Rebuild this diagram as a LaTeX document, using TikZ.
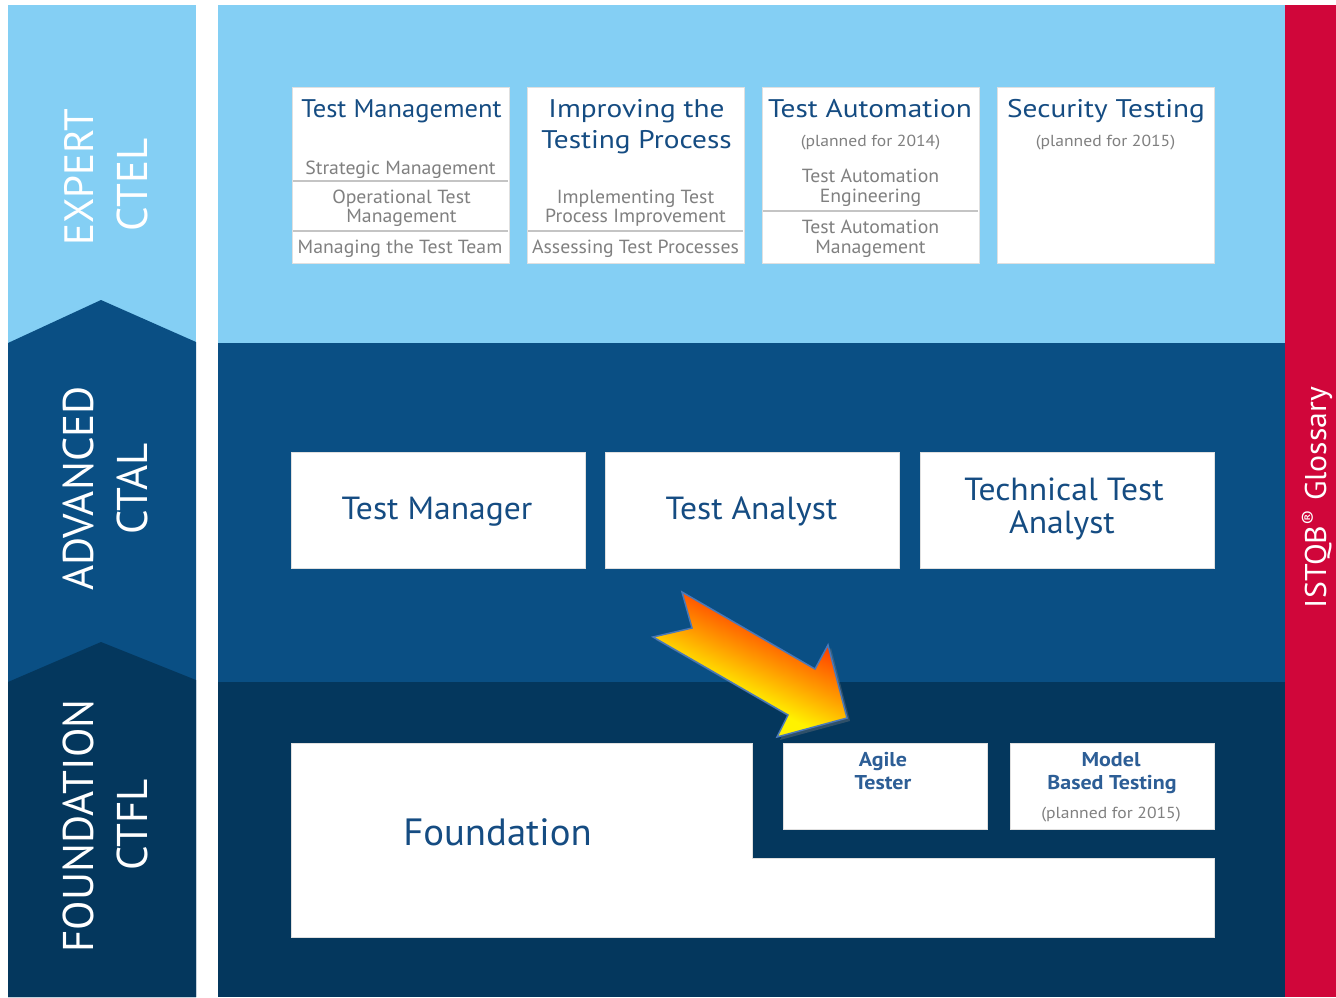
\documentclass[tikz,border=0pt]{standalone}
\usepackage{fontspec}
\setmainfont{PT Sans}
\usetikzlibrary{shadows}
\definecolor{lightblue}{HTML}{84CFF4}
\definecolor{midblue}{HTML}{0A4F84}
\definecolor{darkblue}{HTML}{04375D}
\definecolor{istqbred}{HTML}{D0063A}
\definecolor{titleblue}{HTML}{154C82}
\definecolor{agileblue}{HTML}{2D5E96}
\definecolor{subgray}{HTML}{808080}
\definecolor{sepgray}{HTML}{C4C4C4}
\definecolor{arrowedge}{HTML}{4A78B8}
\definecolor{arrowyellow}{HTML}{FFF200}
\definecolor{arroworange}{HTML}{FF9A00}
\definecolor{arrowred}{HTML}{F01010}
\pgfdeclareverticalshading{arrowshade}{100bp}{color(0bp)=(arrowyellow); color(40bp)=(arrowyellow); color(52bp)=(arroworange); color(63bp)=(orange!60!red); color(72bp)=(arrowred); color(100bp)=(arrowred)}
\begin{document}
\begin{tikzpicture}[x=1pt,y=-1pt,
  whitebox/.style={fill=white,draw=black!12,line width=0.8pt},
  sep/.style={draw=sepgray,line width=2pt},
  title/.style={anchor=base,inner sep=0pt,text=titleblue,font=\fontsize{25.5}{30}\selectfont\addfontfeature{FakeStretch=1.15}},
  titlen/.style={anchor=base,inner sep=0pt,text=titleblue,font=\fontsize{25.5}{30}\selectfont\addfontfeature{FakeStretch=1.04}},
  sub/.style={anchor=base,inner sep=0pt,text=subgray,font=\fontsize{19}{22}\selectfont\addfontfeature{FakeStretch=1.04}},
  planned/.style={anchor=base,inner sep=0pt,text=subgray,font=\fontsize{16}{18}\selectfont\addfontfeature{FakeStretch=1.1}},
  adv/.style={anchor=base,inner sep=0pt,text=titleblue,font=\fontsize{32}{36}\selectfont\addfontfeature{FakeStretch=1.05}},
  found/.style={anchor=base,inner sep=0pt,text=titleblue,font=\fontsize{38}{44}\selectfont\addfontfeature{FakeStretch=1.02}},
  agile/.style={anchor=base,inner sep=0pt,text=agileblue,font=\bfseries\fontsize{20}{22}\selectfont\addfontfeature{FakeStretch=1.1}},
  level/.style={anchor=base,inner sep=0pt,text=white,rotate=90,font=\fontsize{43}{50}\selectfont},
  gloss/.style={anchor=base,inner sep=0pt,text=white,rotate=90,font=\fontsize{30}{36}\selectfont\addfontfeature{FakeStretch=1.06}}
]
\useasboundingbox (0,0) rectangle (1336,997);
\fill[white] (0,0) rectangle (1336,997);

% left level column
\fill[lightblue] (8,5) rectangle (196,997);
\fill[midblue] (8,343) -- (101,300) -- (196,342) -- (196,997) -- (8,997) -- cycle;
\fill[darkblue] (8,682) -- (101,642) -- (196,680) -- (196,997) -- (8,997) -- cycle;

% main panel bands
\fill[lightblue] (218,5) rectangle (1285,343);
\fill[midblue] (218,343) rectangle (1285,682);
\fill[darkblue] (218,682) rectangle (1285,997);
\fill[istqbred] (1285,5) rectangle (1336,997);

% level labels
\node[level,font=\fontsize{41}{50}\selectfont] (expert) at (93,177.5) {EXPERT};
\node[level] (ctel) at (147,185) {CTEL};
\node[level] (advanced) at (93,488.5) {ADVANCED};
\node[level] (ctal) at (147,489) {CTAL};
\node[level] (foundationlvl) at (93,826) {FOUNDATION};
\node[level] (ctfl) at (147,825) {CTFL};

% glossary
\node[gloss] (glossary) at (1326,497.5) {ISTQB\textsuperscript{®} Glossary};

% expert boxes
\fill[whitebox] (292,87) rectangle (509,263);
\fill[whitebox] (527,87) rectangle (744,263);
\fill[whitebox] (762,87) rectangle (979,263);
\fill[whitebox] (997,87) rectangle (1214,263);
\draw[sep] (293,181) -- (508,181);
\draw[sep] (293,231) -- (508,231);
\draw[sep] (528,231) -- (743,231);
\draw[sep] (763,211) -- (978,211);

\node[titlen] (tm) at (401.5,117) {Test Management};
\node[sub] (tm1) at (400.5,174) {Strategic Management};
\node[sub] (tm2a) at (401.5,203) {Operational Test};
\node[sub] (tm2b) at (401.5,222) {Management};
\node[sub] (tm3) at (400,253) {Managing the Test Team};

\node[title] (itp1) at (636.5,117) {Improving the};
\node[title] (itp2) at (636.5,148) {Testing Process};
\node[sub] (itpa) at (635.5,203) {Implementing Test};
\node[sub] (itpb) at (635.5,222) {Process Improvement};
\node[sub] (itpc) at (635.5,253) {Assessing Test Processes};

\node[title] (ta) at (870,117) {Test Automation};
\node[planned] (tap) at (870.5,146) {(planned for 2014)};
\node[sub] (tae1) at (870.5,182) {Test Automation};
\node[sub] (tae2) at (870.5,202) {Engineering};
\node[sub] (tam1) at (870.5,233) {Test Automation};
\node[sub] (tam2) at (870.5,253) {Management};

\node[title] (st) at (1106,117) {Security Testing};
\node[planned] (stp) at (1105.5,146) {(planned for 2015)};

% advanced boxes
\fill[whitebox] (291,452) rectangle (585,568);
\fill[whitebox] (605,452) rectangle (899,568);
\fill[whitebox] (920,452) rectangle (1214,568);
\node[adv] (tmgr) at (437,519) {Test Manager};
\node[adv] (tanl) at (751.5,519) {Test Analyst};
\node[adv] (tta1) at (1064,500) {Technical Test};
\node[adv] (tta2) at (1062,533) {Analyst};

% foundation
\fill[whitebox] (291,743) -- (752,743) -- (752,858) -- (1214,858) -- (1214,937) -- (291,937) -- cycle;
\node[found] (fnd) at (497.5,845) {Foundation};
\fill[whitebox] (783,743) rectangle (987,829);
\fill[whitebox] (1010,743) rectangle (1214,829);
\node[agile] (ag1) at (883,766) {Agile};
\node[agile] (ag2) at (883,789) {Tester};
\node[agile] (mb1) at (1111,766) {Model};
\node[agile] (mb2) at (1112,789) {Based Testing};
\node[planned] (mbp) at (1111,818) {(planned for 2015)};

% arrow
\path[draw=arrowedge,line width=1.5pt,line join=miter,
  shading=arrowshade, shading angle=-25,
  drop shadow={shadow xshift=3pt,shadow yshift=-3pt,opacity=0.35}]
  (653,637) -- (692,628) -- (682,592) -- (815,669) -- (828,645) -- (847,718) -- (777,737) -- (788,715) -- cycle;
\end{tikzpicture}
\end{document}
